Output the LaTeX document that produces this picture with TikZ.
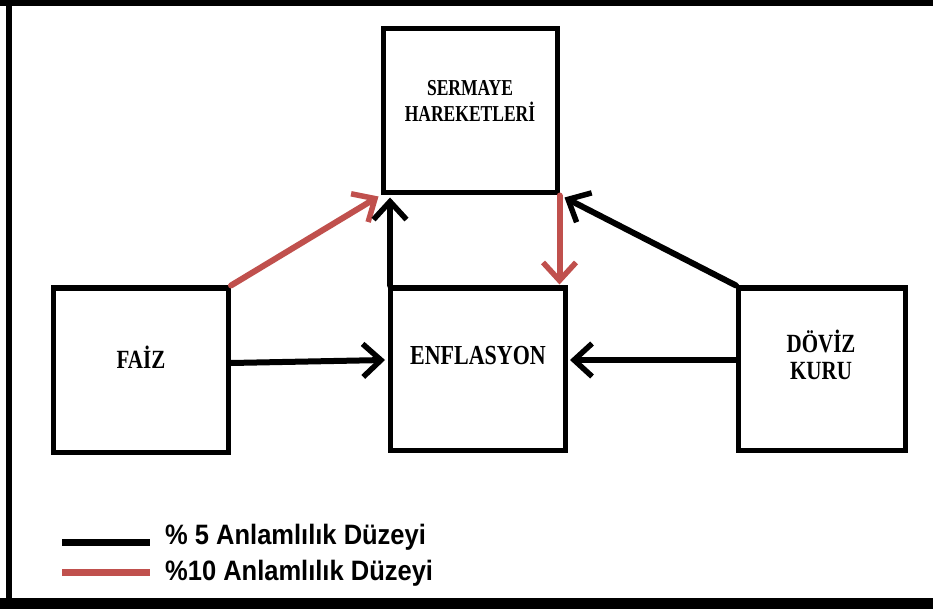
\documentclass[tikz,border=0pt]{standalone}
\usepackage{fontspec}
\setmainfont{Liberation Serif}
\newfontfamily\legendfont{Liberation Sans}
\usetikzlibrary{arrows.meta,calc}
\definecolor{sigred}{RGB}{192,80,77}
\tikzset{
  box/.style={draw=black, line width=5pt, fill=white, rectangle, inner sep=0pt},
  boxlabel/.style={font=\bfseries, align=center},
  conn/.style={line width=6pt, line cap=round, -{Straight Barb[length=18pt,width=33pt,line width=5.5pt]}},
  black5/.style={conn, draw=black},
  red10/.style={conn, draw=sigred},
  legline/.style={line width=7pt},
  legtext/.style={font=\legendfont\bfseries\fontsize{25.5}{28}\selectfont, anchor=west, inner sep=0pt},
}
\begin{document}
\begin{tikzpicture}[x=1pt,y=-1pt]
  \useasboundingbox (0,0) rectangle (933,609);
  % frame
  \fill[black] (0,0) rectangle (933,6);
  \fill[black] (6,0) rectangle (12,609);
  \fill[black] (0,598) rectangle (933,609);

  % boxes
  \node[box, minimum width=174pt, minimum height=164pt] (serm) at (470,111) {};
  \node[boxlabel] at (470,101) {\scalebox{1}[1.3]{\fontsize{17.5}{20}\selectfont SERMAYE}\\[6pt]\scalebox{1}[1.3]{\fontsize{17.5}{20}\selectfont HAREKETLERİ}};
  \node[box, minimum width=175pt, minimum height=164pt] (faiz) at (141,370) {};
  \node[boxlabel] at (141,357) {\scalebox{1}[1.25]{\fontsize{21}{24}\selectfont FAİZ}};
  \node[box, minimum width=175pt, minimum height=162pt] (enf) at (478,369) {};
  \node[boxlabel] at (478,356) {\scalebox{1}[1.25]{\fontsize{22}{24}\selectfont ENFLASYON}};
  \node[box, minimum width=167pt, minimum height=162pt] (doviz) at (822,369) {};
  \node[boxlabel] at (821,355) {\scalebox{1}[1.25]{\fontsize{21}{24}\selectfont DÖVİZ}\\[8pt]\scalebox{1}[1.25]{\fontsize{21}{24}\selectfont KURU}};

  % connectors
  \draw[red10] (faiz.north east) -- ([xshift=-2pt,yshift=-1pt]serm.south west);
  \draw[black5] ([xshift=2pt]enf.north west) -- ([xshift=2pt,yshift=-2pt]enf.north west |- serm.south);
  \draw[red10] (serm.south east) -- ([yshift=1pt]serm.south east |- enf.north);
  \draw[black5] (doviz.north west) -- ([xshift=5pt,yshift=-2pt]serm.south east);
  \draw[black5] ([yshift=7pt]faiz.east) -- ([yshift=9pt,xshift=-3pt]enf.west);
  \draw[black5] ([yshift=9pt]doviz.west) -- ([yshift=9pt,xshift=2pt]enf.east);

  % legend
  \coordinate (l1a) at (62,542);
  \coordinate (l1b) at (150,542);
  \coordinate (l2a) at (62,572);
  \coordinate (l2b) at (150,572);
  \draw[legline, black] (l1a) -- (l1b);
  \draw[legline, sigred] (l2a) -- (l2b);
  \node[legtext] at (165,537) {\scalebox{1}[1.1]{\% 5 Anlamlılık Düzeyi}};
  \node[legtext] at (165,573) {\scalebox{1}[1.1]{\%10 Anlamlılık Düzeyi}};
\end{tikzpicture}
\end{document}
